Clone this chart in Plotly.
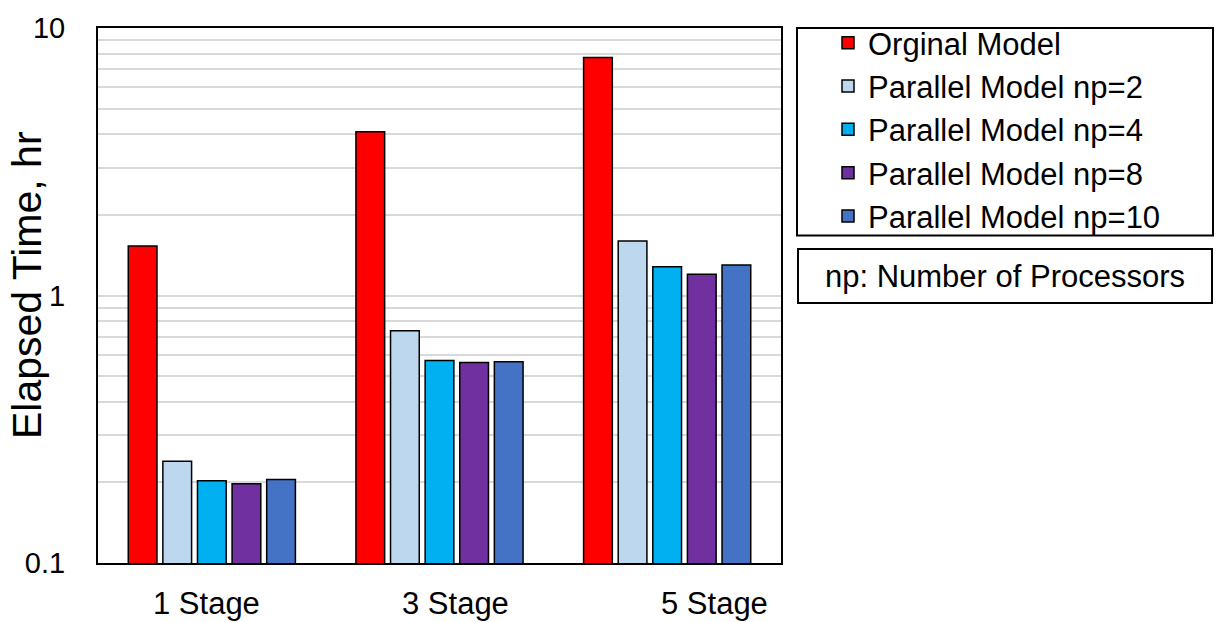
import plotly.graph_objects as go

categories = ["1 Stage", "3 Stage", "5 Stage"]
series_names = ["Orginal Model", "Parallel Model np=2", "Parallel Model np=4",
                "Parallel Model np=8", "Parallel Model np=10"]
original = [1.53, 4.09, 7.76]
np2 = [0.240, 0.738, 1.60]
np4 = [0.203, 0.571, 1.28]
np8 = [0.198, 0.562, 1.20]
np10 = [0.205, 0.565, 1.30]
colors = ["#FF0000", "#BDD7EE", "#00B0F0", "#7030A0", "#4472C4"]
label_shift = [-5, 16, 47]
y_tick_labels = {0.1: "0.1", 1: "1", 10: "10"}

FONT = "Liberation Sans, Arial, sans-serif"

fig = go.Figure()
for i, (name, vals) in enumerate(zip(series_names, [original, np2, np4, np8, np10])):
    fig.add_trace(go.Bar(
        x=categories, y=vals, name=name,
        marker=dict(color=colors[i], line=dict(color="black", width=1.5)),
    ))

tickvals = []
for dec in [0.1, 1]:
    for m in range(1, 10):
        tickvals.append(round(dec * m, 3))
tickvals.append(10)
ticktext = [y_tick_labels.get(v, "") for v in tickvals]

L, R, T, B = 98, 436, 24, 59
W, H = 1217, 622
pw, ph = W - L - R, H - T - B

def px(x):
    return (x - L) / pw

def py(y):
    return (H - B - y) / ph

fig.update_layout(
    width=W, height=H,
    margin=dict(l=L, r=R, t=T, b=B, pad=0),
    plot_bgcolor="white", paper_bgcolor="white",
    barmode="group", bargap=0.24, bargroupgap=0.17,
    font=dict(family=FONT, size=30, color="black"),
    showlegend=True,
    legend=dict(
        x=px(828), y=py(12), xanchor="left", yanchor="top",
        font=dict(family=FONT, size=31, color="black"),
        bgcolor="rgba(0,0,0,0)", borderwidth=0,
        traceorder="normal",
    ),
    xaxis=dict(
        showline=True, linecolor="black", linewidth=2, mirror=True,
        showticklabels=False, ticks="", showgrid=False,
    ),
    yaxis=dict(
        type="log", range=[-1, 1],
        showline=True, linecolor="black", linewidth=2, mirror=True,
        tickmode="array", tickvals=tickvals, ticktext=ticktext,
        ticks="", showgrid=True, gridcolor="#D9D9D9", gridwidth=1.5,
        tickfont=dict(family=FONT, size=29, color="black"),
        ticklabelstandoff=25, zeroline=False,
    ),
)

for i, c in enumerate(categories):
    fig.add_annotation(
        x=c, xref="x", y=py(604), yref="paper",
        text=c, showarrow=False, xanchor="center", yanchor="middle",
        xshift=label_shift[i],
        font=dict(family=FONT, size=31, color="black"),
    )

fig.add_annotation(
    x=px(27), y=py(283), xref="paper", yref="paper",
    text="Elapsed Time, hr", textangle=-90, showarrow=False,
    xanchor="center", yanchor="middle",
    font=dict(family=FONT, size=41, color="black"),
)

fig.add_shape(
    type="rect", xref="paper", yref="paper",
    x0=px(797), x1=px(1213), y0=py(233), y1=py(24),
    line=dict(color="black", width=2), fillcolor="rgba(0,0,0,0)",
)

fig.add_annotation(
    x=px(1004.5), y=py(274), xref="paper", yref="paper",
    text="np: Number of Processors", showarrow=False,
    xanchor="center", yanchor="middle",
    width=412, height=52, borderpad=0, borderwidth=2, bordercolor="black",
    font=dict(family=FONT, size=31, color="black"),
)

fig.write_html("out.html")
